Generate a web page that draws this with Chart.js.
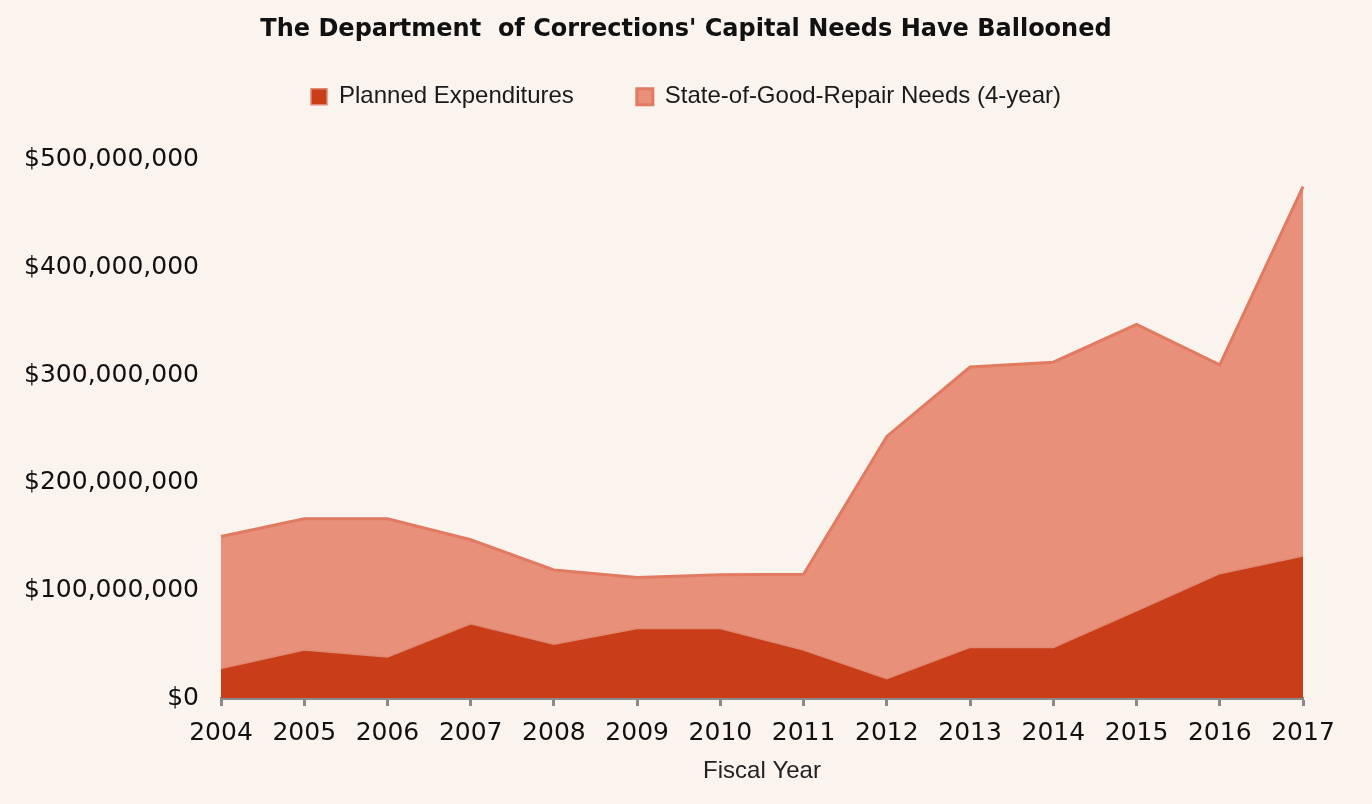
<!DOCTYPE html>
<html>
<head>
<meta charset="utf-8">
<script src="https://cdn.jsdelivr.net/npm/chart.js@4"></script>
<style>
  html, body { margin: 0; padding: 0; background: #FAF3EE; }
  #wrap { width: 1372px; height: 804px; }
</style>
</head>
<body>
<div id="wrap"><canvas id="c" width="1372" height="804"></canvas></div>
<script>
const years = ['2004','2005','2006','2007','2008','2009','2010','2011','2012','2013','2014','2015','2016','2017'];
const plannedExpenditures = [27500000, 44500000, 38000000, 69000000, 50000000, 64500000, 64500000, 44500000, 18000000, 47000000, 47000000, 81000000, 115500000, 132000000];
const goodRepairNeeds = [122500000, 122000000, 128500000, 78000000, 69000000, 47500000, 50000000, 70500000, 225000000, 260500000, 265000000, 266000000, 194000000, 343000000];
const yTicks = [0, 100000000, 200000000, 300000000, 400000000, 500000000];
const titleText = "The Department  of Corrections' Capital Needs Have Ballooned";
const seriesNames = ['Planned Expenditures', 'State-of-Good-Repair Needs (4-year)'];
const xTitle = 'Fiscal Year';

function makeSpacer(position, size) {
  return {
    position: position, weight: 10, fullSize: position === 'top', options: {},
    width: 0, height: 0,
    isHorizontal() { return position === 'top' || position === 'bottom'; },
    update(maxWidth, maxHeight) {
      if (this.isHorizontal()) { this.width = maxWidth; this.height = size; }
      else { this.width = size; this.height = maxHeight; }
    },
    draw() {}
  };
}

const spacer = {
  id: 'spacer',
  beforeInit(chart) {
    Chart.layouts.addBox(chart, makeSpacer('top', 41));
    Chart.layouts.addBox(chart, makeSpacer('right', 69));
  }
};

new Chart(document.getElementById('c'), {
  type: 'line',
  data: {
    labels: years,
    datasets: [
      {
        label: seriesNames[0],
        data: plannedExpenditures,
        backgroundColor: '#C93D19',
        borderColor: '#E08A72',
        borderWidth: 1.5,
        fill: 'origin',
        pointRadius: 0,
        tension: 0
      },
      {
        label: seriesNames[1],
        data: goodRepairNeeds,
        backgroundColor: '#E8907A',
        borderColor: '#E27A62',
        borderWidth: 3,
        fill: '-1',
        pointRadius: 0,
        tension: 0
      }
    ]
  },
  options: {
    responsive: false,
    animation: false,
    layout: { padding: { left: 0, right: 0, top: 0, bottom: 0 } },
    plugins: {
      title: {
        display: true,
        text: titleText,
        color: '#111',
        font: { family: 'DejaVu Sans', size: 24, weight: 'bold', lineHeight: 1.2 },
        padding: { top: 15, bottom: -22 }
      },
      legend: {
        display: true,
        position: 'top',
        labels: {
          color: '#1a1a1a',
          font: { family: 'Liberation Sans', size: 24 },
          boxWidth: 16,
          boxHeight: 16,
          padding: 63
        }
      },
      tooltip: { enabled: false }
    },
    scales: {
      x: {
        offset: false,
        grid: { display: true, drawOnChartArea: false, drawTicks: true, tickLength: 8, tickColor: '#8a8a8a', tickWidth: 3 },
        border: { display: true, color: '#8a8a8a', width: 3 },
        ticks: { color: '#111', font: { family: 'DejaVu Sans', size: 25 }, padding: 12, maxRotation: 0, autoSkip: false },
        title: { display: true, text: xTitle, color: '#222', font: { family: 'Liberation Sans', size: 24 }, padding: { top: 0, bottom: 18 } },
        afterFit(scale) { scale.height = 106; }
      },
      y: {
        stacked: true,
        min: 0,
        max: 500000000,
        grid: { display: false, drawTicks: false },
        border: { display: false },
        afterBuildTicks(scale) { scale.ticks = yTicks.map(v => ({ value: v })); },
        ticks: {
          color: '#111',
          font: { family: 'DejaVu Sans', size: 25 },
          padding: 22,
          callback: v => '$' + Number(v).toLocaleString('en-US')
        },
        afterFit(scale) { scale.width = 221; }
      }
    }
  },
  plugins: [spacer]
});
</script>
</body>
</html>
